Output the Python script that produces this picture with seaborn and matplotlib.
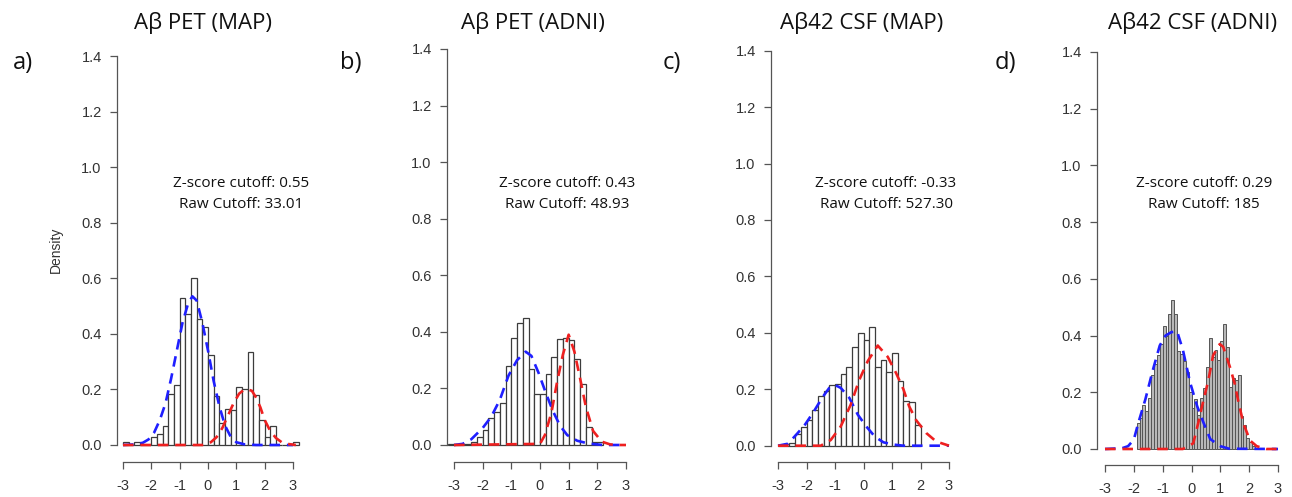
import numpy as np
import pandas as pd
import matplotlib
matplotlib.use('Agg')
import matplotlib.pyplot as plt
import seaborn as sns

sns.set_style('ticks')
plt.rcParams['font.family'] = ['Liberation Sans', 'DejaVu Sans']
plt.rcParams['axes.unicode_minus'] = False

W, H = 1292, 497

titles = ['Aβ PET (MAP)', 'Aβ PET (ADNI)', 'Aβ42 CSF (MAP)', 'Aβ42 CSF (ADNI)']
tags = ['a)', 'b)', 'c)', 'd)']
z_cutoffs = ['0.55', '0.43', '-0.33', '0.29']
raw_cutoffs = ['33.01', '48.93', '527.30', '185']
x_ticks = [-3, -2, -1, 0, 1, 2, 3]
y_ticks = [0.0, 0.2, 0.4, 0.6, 0.8, 1.0, 1.2, 1.4]

# histogram densities (first bin edge, bin width, density per bin)
a_start, a_width = -3.0, 0.2
a_density = [0.01, 0.0, 0.01, 0.0, 0.0, 0.03, 0.04, 0.07, 0.185, 0.215, 0.53, 0.47, 0.60,
             0.455, 0.425, 0.325, 0.175, 0.08, 0.13, 0.125, 0.21, 0.20, 0.335, 0.18, 0.09,
             0.03, 0.07, 0.0, 0.0, 0.0, 0.01]
b_start, b_width = -3.2, 0.2
b_density = [0.003, 0.003, 0.003, 0.005, 0.01, 0.027, 0.053, 0.095, 0.115, 0.15, 0.28, 0.38,
             0.43, 0.45, 0.27, 0.18, 0.18, 0.25, 0.31, 0.375, 0.38, 0.37, 0.305, 0.215, 0.065,
             0.012, 0.012]
c_start, c_width = -3.0, 0.2
c_density = [0.003, 0.005, 0.01, 0.04, 0.065, 0.09, 0.125, 0.175, 0.195, 0.215, 0.22, 0.255,
             0.28, 0.35, 0.40, 0.375, 0.42, 0.28, 0.305, 0.26, 0.33, 0.23, 0.16, 0.155, 0.075]
d_start, d_width = -1.9, 0.1
d_density = [0.09, 0.11, 0.155, 0.135, 0.18, 0.26, 0.30, 0.33, 0.37, 0.435, 0.40, 0.475,
             0.525, 0.475, 0.345, 0.335, 0.31, 0.27, 0.20, 0.145, 0.175, 0.12, 0.18, 0.215,
             0.29, 0.39, 0.325, 0.35, 0.315, 0.38, 0.44, 0.36, 0.22, 0.25, 0.245, 0.26, 0.115,
             0.085, 0.04, 0.025, 0.012]

# fitted component curves
a_blue_x = [-3.0, -2.6, -2.3, -2.1, -1.9, -1.7, -1.5, -1.3, -1.1, -0.9, -0.7, -0.55, -0.4,
            -0.2, 0.0, 0.2, 0.4, 0.6, 0.8, 1.0, 1.3, 1.7, 3.0]
a_blue_y = [0.0, 0.002, 0.008, 0.02, 0.045, 0.09, 0.15, 0.24, 0.34, 0.44, 0.51, 0.535, 0.52,
            0.44, 0.34, 0.23, 0.14, 0.07, 0.03, 0.01, 0.002, 0.0, 0.0]
a_red_x = [-3.0, -0.2, 0.1, 0.3, 0.5, 0.7, 0.9, 1.1, 1.25, 1.4, 1.55, 1.7, 1.85, 2.0, 2.2,
           2.4, 2.6, 2.8, 3.1]
a_red_y = [0.0, 0.0, 0.01, 0.028, 0.06, 0.105, 0.15, 0.185, 0.197, 0.2, 0.195, 0.17, 0.135,
           0.09, 0.05, 0.025, 0.01, 0.004, 0.0]

b_blue_x = [-3.0, -2.7, -2.4, -2.0, -1.7, -1.4, -1.1, -0.8, -0.5, -0.3, -0.05, 0.2, 0.45,
            0.7, 0.95, 1.3, 1.7, 2.2, 3.0]
b_blue_y = [0.0, 0.004, 0.02, 0.06, 0.1, 0.16, 0.245, 0.30, 0.33, 0.315, 0.255, 0.185, 0.12,
            0.068, 0.035, 0.015, 0.005, 0.0, 0.0]
b_red_x = [-3.0, 0.0, 0.17, 0.4, 0.6, 0.8, 1.0, 1.2, 1.4, 1.6, 1.85, 2.15, 2.45, 2.8, 3.0]
b_red_y = [0.0, 0.004, 0.035, 0.115, 0.225, 0.32, 0.39, 0.33, 0.235, 0.135, 0.05, 0.012,
           0.002, 0.0, 0.0]

c_blue_x = [-3.0, -2.65, -2.35, -2.05, -1.75, -1.45, -1.2, -1.0, -0.8, -0.5, -0.2, 0.1, 0.4,
            0.7, 1.05, 1.4, 3.0]
c_blue_y = [0.0, 0.007, 0.04, 0.075, 0.12, 0.17, 0.205, 0.215, 0.205, 0.17, 0.11, 0.068,
            0.032, 0.012, 0.004, 0.0, 0.0]
c_red_x = [-3.0, -1.5, -1.15, -0.8, -0.45, -0.15, 0.15, 0.5, 0.85, 1.15, 1.4, 1.6, 1.85,
           2.2, 2.55, 3.0]
c_red_y = [0.0, 0.0, 0.02, 0.068, 0.145, 0.233, 0.30, 0.355, 0.315, 0.256, 0.2, 0.14, 0.09,
           0.045, 0.015, 0.0]

d_blue_x = [-3.0, -2.4, -2.2, -2.0, -1.85, -1.6, -1.35, -1.1, -0.9, -0.7, -0.5, -0.3, -0.05,
            0.2, 0.42, 0.65, 1.0, 1.3, 3.0]
d_blue_y = [0.0, 0.003, 0.01, 0.033, 0.09, 0.175, 0.275, 0.365, 0.4, 0.412, 0.415, 0.35,
            0.235, 0.15, 0.092, 0.035, 0.01, 0.001, 0.0]
d_red_x = [-3.0, -0.3, 0.06, 0.23, 0.41, 0.58, 0.75, 0.98, 1.1, 1.33, 1.5, 1.62, 1.8, 2.03,
           2.26, 2.6, 3.0]
d_red_y = [0.0, 0.0, 0.02, 0.09, 0.17, 0.24, 0.33, 0.37, 0.36, 0.29, 0.23, 0.17, 0.09, 0.03,
           0.01, 0.0, 0.0]

hists = [(a_start, a_width, a_density), (b_start, b_width, b_density),
         (c_start, c_width, c_density), (d_start, d_width, d_density)]
curves = [(a_blue_x, a_blue_y, a_red_x, a_red_y), (b_blue_x, b_blue_y, b_red_x, b_red_y),
          (c_blue_x, c_blue_y, c_red_x, c_red_y), (d_blue_x, d_blue_y, d_red_x, d_red_y)]
bar_fill = ['white', 'white', 'white', '#b8b8b8']
bar_edge = ['#3c3c3c', '#3c3c3c', '#3c3c3c', '#555555']
bar_lw = [0.9, 0.9, 0.9, 0.7]

# pixel layout: x of -3, x of 3, y-spine x, y of 0, y of 1.4, x-spine y
layout = [(123, 293, 117, 445, 56, 462),
          (454, 626, 447, 445, 49, 462),
          (778, 949, 771, 445.7, 50.7, 462),
          (1105, 1278, 1097, 449, 52, 465)]
title_x = [203, 533, 862, 1193]
tag_x = [23, 351, 672, 1005]
note_x = [241, 567, 886, 1204]

fig = plt.figure(figsize=(W / 100, H / 100), dpi=100)

for i in range(4):
    x0, x1, ysp, y0, y14, xsp = layout[i]
    ppx = (x1 - x0) / 6
    ppy = (y0 - y14) / 1.4
    xl, xr = -3 - (x0 - ysp) / ppx, 3.35
    yb, yt = -(xsp - y0) / ppy, 1.45
    right_px = x1 + (xr - 3) * ppx
    top_px = y14 - (yt - 1.4) * ppy
    ax = fig.add_axes([ysp / W, 1 - xsp / H, (right_px - ysp) / W, (xsp - top_px) / H])

    start, width, dens = hists[i]
    edges = [start + width * k for k in range(len(dens) + 1)]
    hist_df = pd.DataFrame({'z': [start + width * (k + 0.5) for k in range(len(dens))],
                            'density': dens})
    sns.histplot(data=hist_df, x='z', weights='density', bins=edges, stat='count', ax=ax,
                 color=bar_fill[i], edgecolor=bar_edge[i], linewidth=bar_lw[i], alpha=1)

    bx, by, rx, ry = curves[i]
    sns.lineplot(x=bx, y=by, ax=ax, color='#1f1fff', linewidth=1.9,
                 linestyle=(0, (4, 2.6)), sort=False)
    sns.lineplot(x=rx, y=ry, ax=ax, color='#ee2020', linewidth=1.9,
                 linestyle=(0, (4, 2.6)), sort=False)

    ax.set_xlim(xl, xr)
    ax.set_ylim(yb, yt)
    ax.set_xticks(x_ticks)
    ax.set_xticklabels([str(t) for t in x_ticks])
    ax.set_yticks(y_ticks)
    ax.set_yticklabels([f'{t:.1f}' for t in y_ticks])
    ax.set_xlabel('')
    ax.set_ylabel('')
    sns.despine(ax=ax)
    ax.spines['left'].set_bounds(0, 1.4)
    ax.spines['bottom'].set_bounds(-3, 3)
    for s in ['left', 'bottom']:
        ax.spines[s].set_color('#555555')
        ax.spines[s].set_linewidth(0.9)
    ax.tick_params(length=5, width=0.9, color='#555555', labelcolor='#333333',
                   labelsize=10.5)
    ax.tick_params(axis='y', pad=6)
    ax.tick_params(axis='x', pad=7)
    ax.patch.set_alpha(0)

    fig.text(title_x[i] / W, 1 - 23 / H, titles[i], ha='center', va='center',
             fontsize=16, family='Open Sans', color='#111111')
    fig.text(tag_x[i] / W, 1 - 63 / H, tags[i], ha='center', va='center',
             fontsize=17, family='Open Sans', color='#111111')
    fig.text(note_x[i] / W, 1 - 183 / H, 'Z-score cutoff: ' + z_cutoffs[i], ha='center',
             va='center', fontsize=11, family='Open Sans', color='#111111')
    fig.text(note_x[i] / W, 1 - 204 / H, 'Raw Cutoff: ' + raw_cutoffs[i], ha='center',
             va='center', fontsize=11, family='Open Sans', color='#111111')

fig.text(56 / W, 1 - 250 / H, 'Density', rotation=90, ha='center', va='center',
         fontsize=10, color='#333333')

fig.savefig('out.png', dpi=100)
